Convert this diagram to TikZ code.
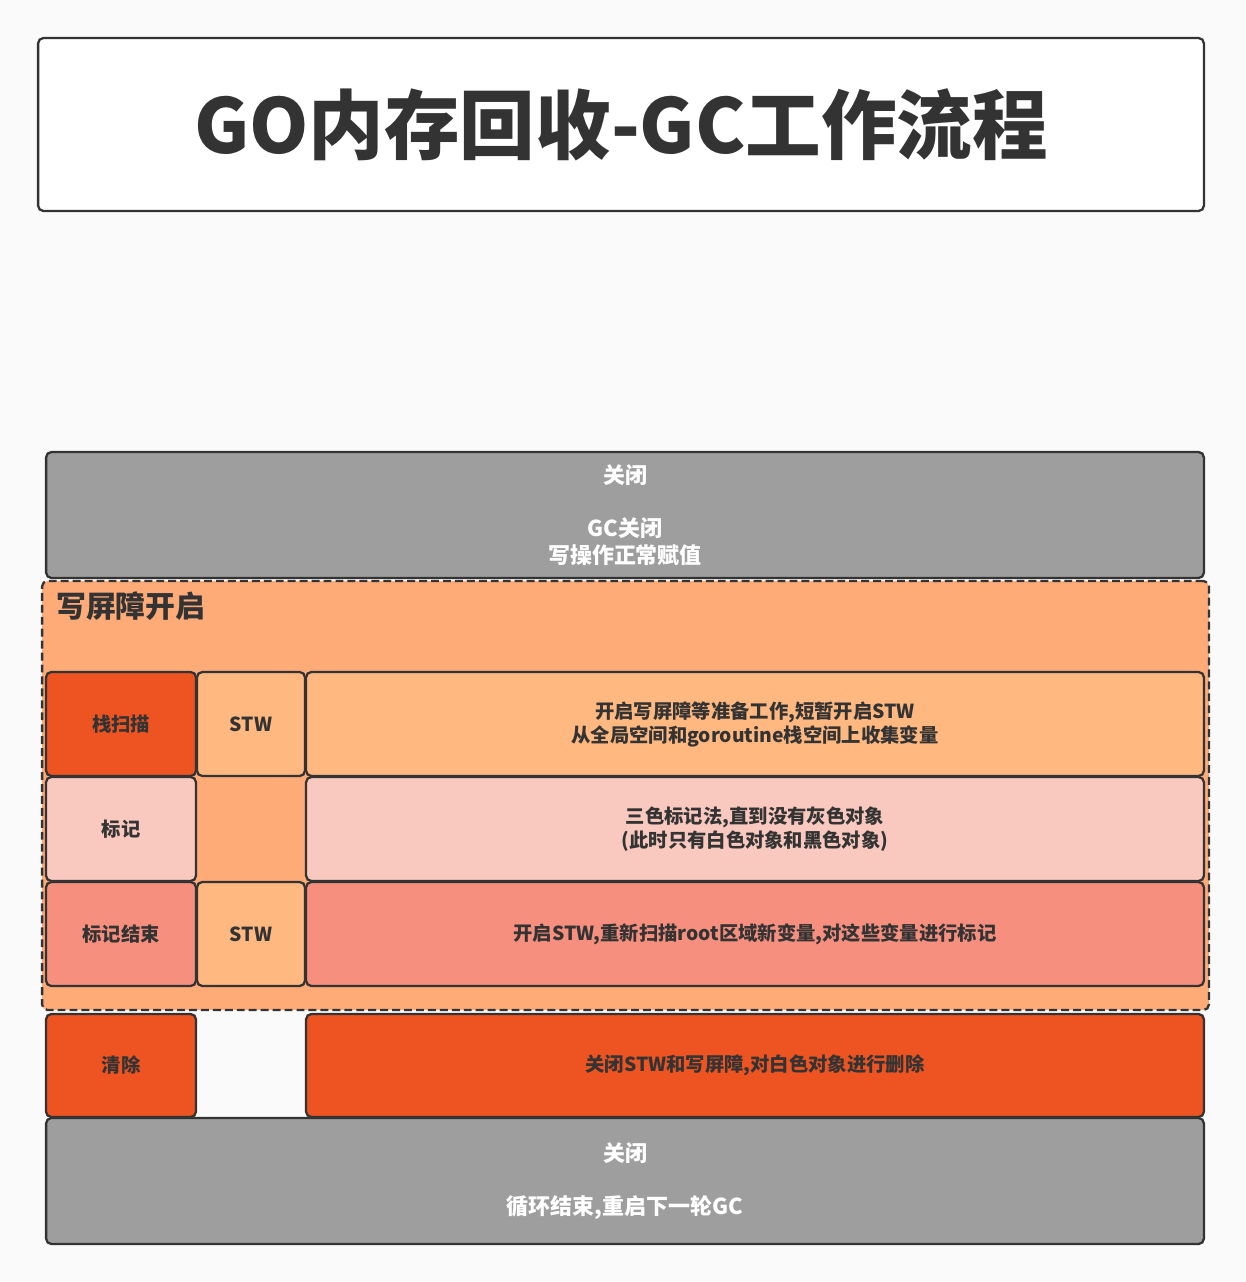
\documentclass[tikz,border=0pt]{standalone}
\usepackage{fontspec}
\setmainfont{Noto Sans CJK SC}
\usepackage{xcolor}
\usepackage{tikz}
\definecolor{ink}{HTML}{333333}
\definecolor{canvas}{HTML}{FAFAFA}
\definecolor{ash}{HTML}{9E9E9E}
\definecolor{barrier}{HTML}{FFAB78}
\definecolor{peach}{HTML}{FFB880}
\definecolor{blood}{HTML}{EE5422}
\definecolor{blush}{HTML}{F9C9BF}
\definecolor{salmon}{HTML}{F68F7E}

\begin{document}
\begin{tikzpicture}[x=0.02cm,y=-0.02cm,cell/.style={draw=ink,line width=1.3pt,rounded corners=3pt,align=center,text=ink,font={\fontsize{11}{13.6}\selectfont\bfseries},minimum height=2.08cm,inner sep=0pt},head/.style={cell,minimum width=3.0cm},stw/.style={cell,fill=peach,minimum width=2.16cm},info/.style={cell,minimum width=17.96cm},off/.style={cell,fill=ash,text=white,minimum width=23.16cm,minimum height=2.52cm,font={\fontsize{12.5}{15.3}\selectfont\bfseries}}]
\useasboundingbox[fill=canvas] (0,0) rectangle (1246,1282);
\node[cell,fill=white,minimum width=23.32cm,minimum height=3.46cm,font={\fontsize{43}{48}\selectfont\bfseries}] (title) at (621,124.5) {GO内存回收-GC工作流程};
\node[off] (closed) at (625,515) {关闭\\[15.3pt]GC关闭\\写操作正常赋值};
\node[cell,fill=barrier,dash pattern=on 4.5pt off 2.3pt,minimum width=23.34cm,minimum height=8.58cm] (wb) at (625.5,795.5) {};
\node[anchor=west,text=ink,font={\fontsize{17}{20}\selectfont\bfseries}] (wblabel) at (50,606) {写屏障开启};
\node[head,fill=blood] (scan) at (121,724) {栈扫描};
\node[stw] (scanstw) at (251,724) {STW};
\node[info,fill=peach] (scaninfo) at (755,724) {开启写屏障等准备工作,短暂开启STW\\从全局空间和goroutine栈空间上收集变量};
\node[head,fill=blush] (mark) at (121,829) {标记};
\node[info,fill=blush] (markinfo) at (755,829) {三色标记法,直到没有灰色对象\\(此时只有白色对象和黑色对象)};
\node[head,fill=salmon] (markend) at (121,934) {标记结束};
\node[stw] (markendstw) at (251,934) {STW};
\node[info,fill=salmon] (markendinfo) at (755,934) {开启STW,重新扫描root区域新变量,对这些变量进行标记};
\node[head,fill=blood,minimum height=2.06cm] (sweep) at (121,1065.5) {清除};
\node[info,fill=blood,minimum height=2.06cm] (sweepinfo) at (755,1065.5) {关闭STW和写屏障,对白色对象进行删除};
\node[off] (restart) at (625,1181) {关闭\\[15.3pt]循环结束,重启下一轮GC};
\end{tikzpicture}
\end{document}
